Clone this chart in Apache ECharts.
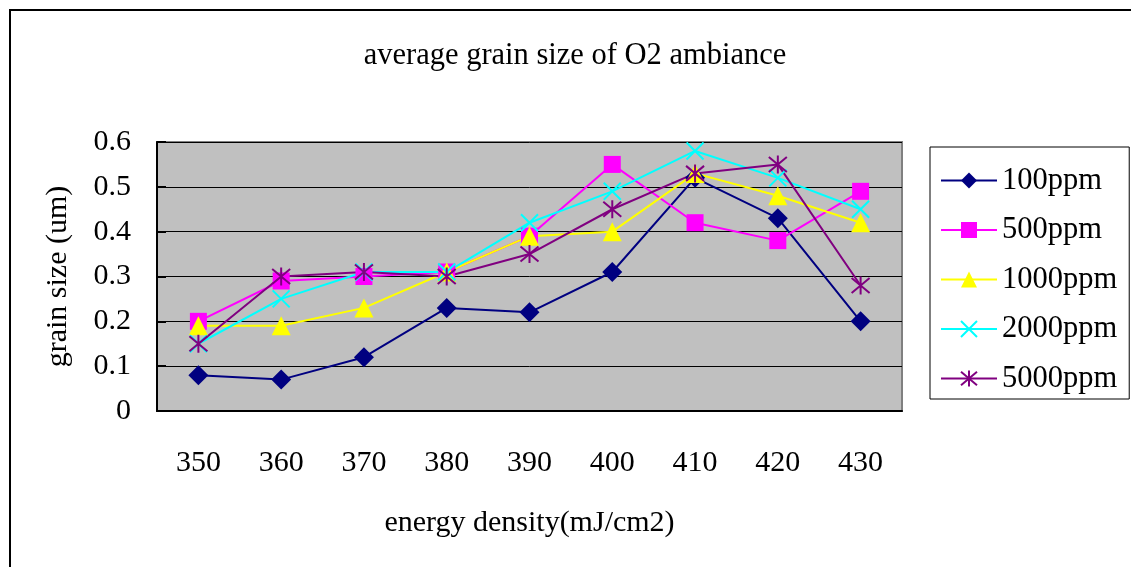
<!DOCTYPE html>
<html>
<head>
<meta charset="utf-8">
<script src="https://cdn.jsdelivr.net/npm/echarts@6/dist/echarts.min.js"></script>
<style>
  html, body { margin: 0; padding: 0; background: #fff; }
  #chart { width: 1131px; height: 567px; }
</style>
</head>
<body>
<div id="chart"></div>
<script>
// energy density categories
const energyDensity = ['350', '360', '370', '380', '390', '400', '410', '420', '430'];

// average grain size (um) per ambiance concentration
const ppm100 = [0.08, 0.07, 0.12, 0.23, 0.22, 0.31, 0.52, 0.43, 0.20];
const ppm500 = [0.20, 0.29, 0.30, 0.31, 0.39, 0.55, 0.42, 0.38, 0.49];
const ppm1000 = [0.19, 0.19, 0.23, 0.31, 0.39, 0.40, 0.53, 0.48, 0.42];
const ppm2000 = [0.15, 0.25, 0.31, 0.31, 0.42, 0.49, 0.58, 0.52, 0.45];
const ppm5000 = [0.15, 0.30, 0.31, 0.30, 0.35, 0.45, 0.53, 0.55, 0.28];

const seriesNames = ['100ppm', '500ppm', '1000ppm', '2000ppm', '5000ppm'];

const font = 'Liberation Serif';
const crossPath = 'path://M0,0 L10,10 M10,0 L0,10';
const starPath = 'path://M0,0 L10,10 M10,0 L0,10 M5,-1 L5,11';

const chart = echarts.init(document.getElementById('chart'));

const makeSeries = (name, data, color, symbol, size, stroke) => ({
  name: name,
  type: 'line',
  data: data,
  symbol: symbol,
  symbolSize: size,
  showAllSymbol: true,
  lineStyle: { color: color, width: 2 },
  itemStyle: stroke
    ? { color: color, borderColor: color, borderWidth: 2 }
    : { color: color, borderWidth: 0 },
  emphasis: { disabled: true },
  animation: false
});

const option = {
  backgroundColor: '#fff',
  animation: false,
  title: {
    text: 'average grain size of O2 ambiance',
    left: 570,
    top: 35,
    textAlign: 'center',
    textStyle: { fontFamily: font, fontSize: 30.5, fontWeight: 'normal', color: '#000' }
  },
  legend: {
    orient: 'vertical',
    left: 930,
    top: 147,
    itemWidth: 56,
    itemHeight: 20,
    itemGap: 18.5,
    padding: [18, 12, 5, 10],
    borderColor: '#000',
    borderWidth: 1,
    data: seriesNames,
    textStyle: { fontFamily: font, fontSize: 30.5, color: '#000' }
  },
  grid: {
    left: 157,
    right: 229,
    top: 142,
    bottom: 156,
    show: true,
    backgroundColor: '#C0C0C0',
    borderColor: '#808080',
    borderWidth: 2,
    outerBoundsMode: 'none'
  },
  xAxis: {
    type: 'category',
    data: energyDensity,
    name: 'energy density(mJ/cm2)',
    nameLocation: 'middle',
    nameGap: 97,
    nameTextStyle: { fontFamily: font, fontSize: 30, color: '#000' },
    axisLine: { lineStyle: { color: '#000', width: 2 } },
    axisTick: { inside: true, length: 10, lineStyle: { color: '#000', width: 1 } },
    axisLabel: { margin: 37, fontFamily: font, fontSize: 30, color: '#000' },
    splitLine: { show: false }
  },
  yAxis: {
    type: 'value',
    min: 0,
    max: 0.6,
    interval: 0.1,
    name: 'grain size (um)',
    nameLocation: 'middle',
    nameGap: 84,
    nameTextStyle: { fontFamily: font, fontSize: 30, color: '#000' },
    axisLine: { show: true, lineStyle: { color: '#000', width: 2 } },
    axisTick: { show: true, inside: true, length: 9, lineStyle: { color: '#000', width: 2 } },
    axisLabel: { margin: 26, fontFamily: font, fontSize: 30, color: '#000' },
    splitLine: { show: true, lineStyle: { color: '#000', width: 1 } }
  },
  graphic: [
    {
      type: 'rect',
      silent: true,
      z: -1,
      shape: { x: 10, y: 10, width: 1200, height: 700 },
      style: { fill: 'none', stroke: '#000', lineWidth: 2 }
    }
  ],
  series: [
    makeSeries('100ppm', ppm100, '#000080', 'diamond', 20, false),
    makeSeries('500ppm', ppm500, '#FF00FF', 'rect', 17, false),
    makeSeries('1000ppm', ppm1000, '#FFFF00', 'triangle', 19, false),
    makeSeries('2000ppm', ppm2000, '#00FFFF', crossPath, 17, true),
    makeSeries('5000ppm', ppm5000, '#800080', starPath, 18, true)
  ]
};

chart.setOption(option);

window.addEventListener('resize', () => {
  chart.resize();
});
</script>
</body>
</html>
